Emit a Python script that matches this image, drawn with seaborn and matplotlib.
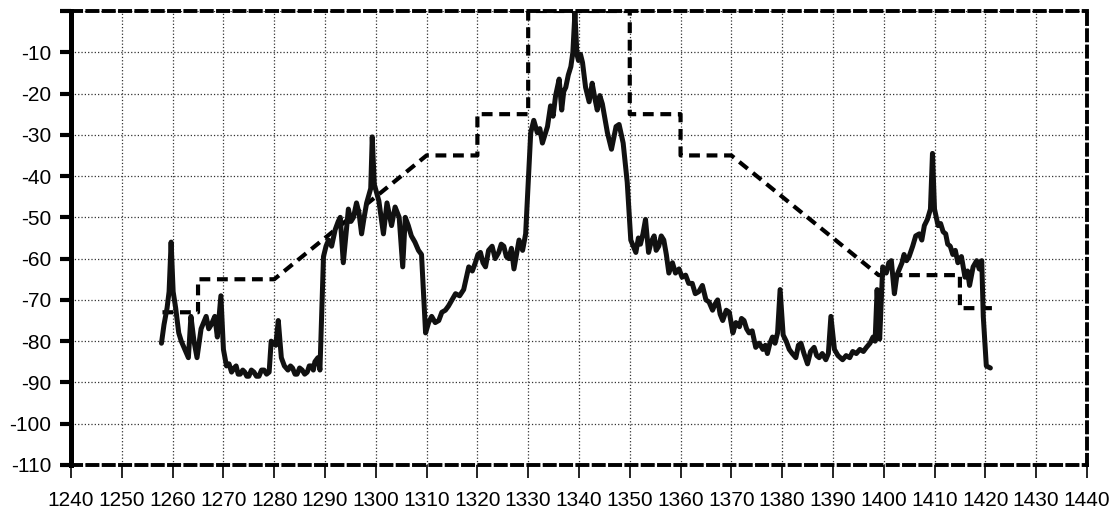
import seaborn as sns
import matplotlib.pyplot as plt

freq = [1257.8, 1258.3, 1258.9, 1259.3, 1259.7, 1260.1, 1260.6, 1261.2, 1261.7, 1262.4,
        1263.1, 1263.6, 1264.2, 1264.8, 1265.6, 1266.6, 1267.1, 1267.6, 1268.3, 1268.8,
        1269.5, 1270.0, 1270.6, 1271.1, 1271.6, 1272.1, 1272.5, 1272.9, 1273.3, 1273.8,
        1274.2, 1274.6, 1275.0, 1275.5, 1276.0, 1276.5, 1277.0, 1277.5, 1278.0, 1278.5,
        1279.0, 1279.4, 1280.3, 1280.8, 1281.4, 1282.0, 1282.7, 1283.2, 1283.6, 1284.1,
        1284.5, 1285.0, 1285.5, 1286.0, 1286.5, 1286.9, 1287.3, 1287.7, 1288.0, 1288.6,
        1289.0, 1289.7, 1290.2, 1290.7, 1291.3, 1292.0, 1292.6,
        1293.0, 1293.6, 1294.6, 1295.1, 1295.6, 1296.2, 1296.7, 1297.2, 1297.7, 1298.2,
        1299.0, 1299.3, 1299.7, 1300.6, 1301.5, 1302.2, 1302.6, 1303.1, 1303.8, 1304.6,
        1305.3, 1305.8, 1306.4, 1307.0, 1307.7, 1308.4, 1309.0, 1309.8, 1310.4, 1311.0,
        1311.7, 1312.4, 1313.0, 1313.7, 1314.3, 1315.0, 1315.7, 1316.5, 1317.3, 1318.3,
        1319.0, 1319.6, 1320.1, 1320.6, 1321.1, 1321.6, 1322.2, 1322.9, 1323.5, 1324.2,
        1324.7, 1325.2, 1325.7, 1326.2, 1326.7, 1327.2, 1327.7, 1328.2, 1328.9, 1329.5,
        1330.5, 1331.1, 1331.8, 1332.3, 1332.8, 1333.3, 1333.8, 1334.4, 1334.9, 1335.4,
        1336.1, 1336.6, 1337.0, 1337.4, 1337.9, 1338.4, 1338.8, 1339.2, 1339.6, 1339.9,
        1340.3, 1340.7, 1341.3, 1342.0, 1342.6, 1343.1, 1343.6, 1344.1, 1344.6, 1345.1,
        1345.6, 1346.4, 1347.3, 1347.9, 1348.7, 1349.5, 1350.2, 1350.7, 1351.2, 1351.7,
        1352.1, 1352.6, 1353.1, 1353.7, 1354.2, 1354.8, 1355.2, 1355.7, 1356.2, 1356.7,
        1357.2, 1357.7, 1358.4, 1359.0, 1359.7, 1360.3, 1361.0, 1361.6, 1362.3, 1362.9,
        1363.6, 1364.3, 1365.0, 1365.6, 1366.3, 1366.8, 1367.3, 1367.8, 1368.3, 1369.0,
        1369.6, 1370.3, 1370.9, 1371.6, 1372.0, 1372.5, 1373.0, 1373.5, 1374.1, 1374.8,
        1375.5, 1376.2, 1376.7, 1377.1, 1377.6, 1378.1, 1378.6, 1379.1, 1379.6, 1380.2,
        1380.8, 1381.4, 1382.0, 1382.7, 1383.2, 1383.7, 1384.3, 1385.0, 1385.6, 1386.3,
        1386.8, 1387.3, 1387.9, 1388.6, 1389.1, 1389.6, 1390.3, 1391.0, 1391.9, 1392.6,
        1393.3, 1393.9, 1394.6, 1395.3, 1396.0, 1396.6, 1397.3, 1397.9, 1398.3, 1398.7,
        1399.2, 1399.8, 1400.5, 1401.0, 1401.5, 1402.1, 1402.6, 1403.1, 1403.6, 1404.0,
        1404.5, 1405.0, 1405.7, 1406.3, 1407.0, 1407.5, 1408.0, 1408.6, 1409.2, 1409.6,
        1410.0, 1410.7, 1411.2, 1411.7, 1412.2, 1412.6, 1413.1, 1413.6, 1414.1, 1414.6,
        1415.3, 1416.0, 1416.5, 1416.9, 1417.6, 1418.3, 1418.8, 1419.3, 1419.6, 1420.2,
        1421.0]
level = [-80.5, -76, -72, -68, -56, -68, -72, -78, -80, -82,
         -84, -74, -80, -84, -77, -74, -77, -76, -74, -79,
         -69, -82, -86, -85.5, -87.5, -86.5, -86, -88, -88, -87,
         -87.5, -88.5, -88.5, -87, -87.5, -88.5, -88.5, -87, -87, -88,
         -87.5, -80, -81, -75, -84, -86, -87, -86, -86.5, -88,
         -88, -86.5, -87, -88, -87.5, -86, -86, -87, -85, -84,
         -87, -59.5, -57, -55.5, -57, -53, -51,
         -50, -61, -48, -51, -50, -46.5, -49, -54, -50, -46.5,
         -43, -30.5, -42, -46, -54, -46.5, -49, -52, -47.5, -50,
         -62, -50, -52, -54.5, -56, -58, -59, -78, -75.5, -74,
         -75.5, -75, -73, -72.5, -71.5, -70, -68.5, -69, -67.5, -62,
         -63, -61, -59, -58.5, -61, -62, -58, -57, -60, -58.5,
         -56.5, -57, -59.5, -60, -57.5, -62.5, -59, -55.5, -58, -54,
         -29.5, -26.5, -29.5, -28.5, -32, -30, -28, -23, -25.5, -20.5,
         -16.5, -24, -19.5, -18.5, -15.5, -13.5, -10, -0.5, -10.5, -12,
         -10.5, -12.5, -18.5, -22, -17.5, -21, -24, -20.5, -22.5, -26,
         -29.5, -33.5, -28, -27.5, -32, -41.5, -55.5, -57, -58.5, -55,
         -56.5, -54, -50.5, -58.5, -56, -54.5, -58, -57, -54.5, -55.5,
         -59, -63.5, -61, -63.5, -62.5, -64.5, -64, -66, -66, -68.5,
         -68, -66.5, -70, -70.5, -72.5, -71, -70, -73.5, -75, -72.5,
         -73, -78, -75.5, -76.5, -74.5, -75, -77, -78, -77.5, -81.5,
         -80.5, -82, -81, -83, -80.5, -79, -80.5, -78, -67.5, -78.5,
         -80, -82, -83, -84, -81, -80.5, -83, -85.5, -82.5, -81.5,
         -83.5, -84, -83, -84.5, -83, -74, -82, -83.5, -84.5, -83.5,
         -84, -82.5, -83, -82, -82.5, -81.5, -80.5, -79, -80, -67.5,
         -79.5, -62, -63.5, -61, -60.5, -68.5, -64, -62.5, -61, -59,
         -60.5, -59.5, -57, -54.5, -54, -55.5, -52, -50.5, -48, -34.5,
         -48, -52, -51.5, -53.5, -54, -56.5, -57, -59, -58, -61,
         -59.5, -64.5, -63, -66.5, -62, -60.5, -62.5, -60.5, -74, -86,
         -86.5]

# emission mask
mask_freq = [1258, 1265, 1265, 1280, 1310, 1320, 1320, 1330, 1330, 1350,
             1350, 1360, 1360, 1370, 1399, 1415, 1415, 1422]
mask_level = [-73, -73, -65, -65, -35, -35, -25, -25, 0, 0,
              -25, -25, -35, -35, -64, -64, -72, -72]

x_ticks = [1240, 1250, 1260, 1270, 1280, 1290, 1300, 1310, 1320, 1330, 1340,
           1350, 1360, 1370, 1380, 1390, 1400, 1410, 1420, 1430, 1440]
y_ticks = [-110, -100, -90, -80, -70, -60, -50, -40, -30, -20, -10, 0]
y_labels = ['-110', '-100', '-90', '-80', '-70', '-60', '-50', '-40', '-30', '-20', '-10', '']

sns.set_style('white')
plt.rcParams['font.family'] = ['Liberation Sans', 'DejaVu Sans']

fig = plt.figure(figsize=(11.19, 5.13), dpi=100)
ax = fig.add_axes([0.0635, 0.0936, 0.9078, 0.885])

dash = (0, (2.6, 1.6))

sns.lineplot(x=mask_freq, y=mask_level, estimator=None, sort=False, color='black',
             linewidth=3.0, linestyle=dash, ax=ax)
sns.lineplot(x=freq, y=level, estimator=None, sort=False, color='#111111',
             linewidth=3.6, ax=ax)

ax.set_xlim(1240, 1440)
ax.set_ylim(-110, 0)
ax.set_xticks(x_ticks)
ax.set_yticks(y_ticks, labels=y_labels)
ax.set(xlabel='', ylabel='')

ax.grid(True, linestyle=':', color='#333333', linewidth=0.9)
ax.set_axisbelow(True)

for side in ['left', 'top', 'right', 'bottom']:
    ax.spines[side].set_color('black')
ax.spines['left'].set_linewidth(3.6)
for side in ['top', 'right', 'bottom']:
    ax.spines[side].set_linestyle(dash)
    ax.spines[side].set_linewidth(2.8)

ax.tick_params(axis='y', direction='out', length=8, width=3, pad=6,
               labelsize=15, left=True, color='black', labelcolor='black')
ax.tick_params(axis='x', direction='out', length=9, width=1.2, pad=10,
               labelsize=15, bottom=True, color='black', labelcolor='black')

fig.savefig('out.png', dpi=100)
